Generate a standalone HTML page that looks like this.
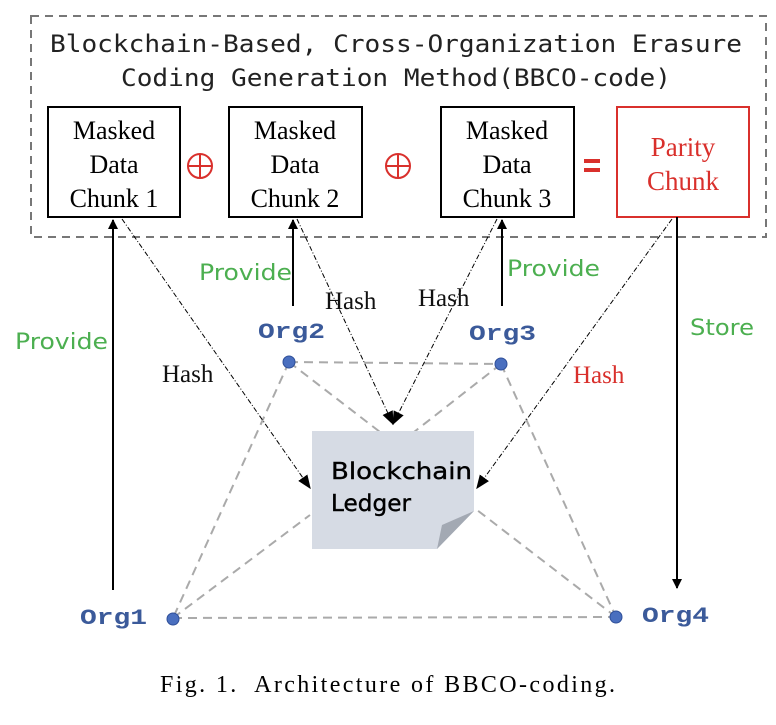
<!DOCTYPE html>
<html><head><meta charset="utf-8"><style>
body{margin:0;background:#fff;width:776px;height:725px;overflow:hidden}
svg{display:block}
</style></head><body>
<svg width="776" height="725" viewBox="0 0 776 725" xmlns="http://www.w3.org/2000/svg">
<defs>
<marker id="ah" viewBox="0 0 10 10" refX="9" refY="5" markerWidth="10" markerHeight="10" orient="auto-start-reverse" markerUnits="userSpaceOnUse"><path d="M0,0L10,5L0,10z" fill="#000"/></marker>
<marker id="ah2" viewBox="0 0 10 10" refX="9" refY="5" markerWidth="14" markerHeight="14" orient="auto" markerUnits="userSpaceOnUse"><path d="M0,1L10,5L0,9z" fill="#000"/></marker>
</defs>
<rect x="31" y="16" width="735" height="221" fill="none" stroke="#777" stroke-width="2" stroke-dasharray="8,6"/>
<g font-family="DejaVu Sans Mono, Liberation Mono, monospace" font-size="24" fill="#222">
<text x="50" y="52" textLength="692" lengthAdjust="spacingAndGlyphs">Blockchain-Based, Cross-Organization Erasure</text>
<text x="121" y="86" textLength="550" lengthAdjust="spacingAndGlyphs">Coding Generation Method(BBCO-code)</text>
</g>
<g fill="#fff" stroke="#000" stroke-width="2">
<rect x="48" y="107" width="132" height="110"/>
<rect x="229" y="107" width="133" height="110"/>
<rect x="441" y="107" width="133" height="110"/>
</g>
<rect x="617" y="107" width="132" height="110" fill="#fff" stroke="#d9302c" stroke-width="2"/>
<g font-family="Liberation Serif, serif" font-size="26" text-anchor="middle" fill="#000">
<text x="114" y="139">Masked</text><text x="114" y="173">Data</text><text x="114" y="207">Chunk 1</text>
<text x="295" y="139">Masked</text><text x="295" y="173">Data</text><text x="295" y="207">Chunk 2</text>
<text x="507" y="139">Masked</text><text x="507" y="173">Data</text><text x="507" y="207">Chunk 3</text>
<text x="683" y="156" fill="#d9302c" font-size="27">Parity</text><text x="683" y="190" fill="#d9302c" font-size="27">Chunk</text>
</g>
<g stroke="#d9302c" stroke-width="2" fill="none">
<circle cx="200" cy="166" r="12"/><line x1="188" y1="166" x2="212" y2="166"/><line x1="200" y1="154" x2="200" y2="178"/>
<circle cx="398" cy="166" r="12"/><line x1="386" y1="166" x2="410" y2="166"/><line x1="398" y1="154" x2="398" y2="178"/>
</g>
<rect x="584" y="159" width="16" height="4" fill="#d9302c"/><rect x="584" y="168" width="16" height="4" fill="#d9302c"/>
<g stroke="#aaa" stroke-width="2" stroke-dasharray="9,6" fill="none">
<line x1="289" y1="362" x2="501" y2="364"/>
<line x1="173" y1="618" x2="616" y2="617"/>
<line x1="289" y1="362" x2="173" y2="618"/>
<line x1="501" y1="364" x2="616" y2="617"/>
<line x1="289" y1="362" x2="380" y2="432"/>
<line x1="501" y1="364" x2="414" y2="432"/>
<line x1="173" y1="618" x2="310" y2="515"/>
<line x1="616" y1="617" x2="477" y2="510"/>
</g>
<path d="M312,431 H474 V511 L437,549 H312 Z" fill="#d6dbe4"/>
<path d="M474,511 L437,549 L442,525 Z" fill="#a3a9b3"/>
<text x="331" y="479" font-family="DejaVu Sans, sans-serif" font-size="23" fill="#000" stroke="#000" stroke-width="0.4" textLength="141" lengthAdjust="spacingAndGlyphs">Blockchain</text>
<text x="331" y="511" font-family="DejaVu Sans, sans-serif" font-size="23" fill="#000" stroke="#000" stroke-width="0.4" textLength="80" lengthAdjust="spacingAndGlyphs">Ledger</text>
<g stroke="#000" stroke-width="1" stroke-dasharray="5,2,1,2" fill="none">
<line x1="122" y1="219" x2="310" y2="488" marker-end="url(#ah2)"/>
<line x1="297" y1="219" x2="393" y2="424" marker-end="url(#ah2)"/>
<line x1="497" y1="219" x2="393" y2="424" marker-end="url(#ah2)"/>
<line x1="672" y1="219" x2="477" y2="488" marker-end="url(#ah2)"/>
</g>
<g stroke="#000" stroke-width="2">
<line x1="113" y1="590" x2="113" y2="220" marker-end="url(#ah)"/>
<line x1="293" y1="306" x2="293" y2="220" marker-end="url(#ah)"/>
<line x1="502" y1="306" x2="502" y2="220" marker-end="url(#ah)"/>
<line x1="677" y1="217" x2="677" y2="588" marker-end="url(#ah)"/>
</g>
<g fill="#4a6fbf" stroke="#2f4f99" stroke-width="1">
<circle cx="289" cy="362" r="6"/><circle cx="501" cy="364" r="6"/><circle cx="173" cy="619" r="6"/><circle cx="616" cy="617" r="6"/>
</g>
<g font-family="Liberation Mono, monospace" font-size="22" font-weight="bold" fill="#3b5a9a">
<text x="258" y="338" textLength="67" lengthAdjust="spacingAndGlyphs">Org2</text>
<text x="469" y="340" textLength="67" lengthAdjust="spacingAndGlyphs">Org3</text>
<text x="80" y="624" textLength="67" lengthAdjust="spacingAndGlyphs">Org1</text>
<text x="642" y="622" textLength="67" lengthAdjust="spacingAndGlyphs">Org4</text>
</g>
<g font-family="DejaVu Sans, sans-serif" font-size="22" fill="#4caf50">
<text x="15" y="349" textLength="93" lengthAdjust="spacingAndGlyphs">Provide</text>
<text x="199" y="280" textLength="93" lengthAdjust="spacingAndGlyphs">Provide</text>
<text x="507" y="276" textLength="93" lengthAdjust="spacingAndGlyphs">Provide</text>
<text x="690" y="335" textLength="64" lengthAdjust="spacingAndGlyphs">Store</text>
</g>
<g font-family="Liberation Serif, serif" font-size="25" fill="#111">
<text x="162" y="382">Hash</text><text x="325" y="309">Hash</text><text x="418" y="306">Hash</text>
<text x="573" y="383" fill="#d9302c">Hash</text>
</g>
<text x="160" y="692" font-family="Liberation Serif, serif" font-size="24" fill="#000" textLength="455" lengthAdjust="spacing" xml:space="preserve">Fig. 1.  Architecture of BBCO-coding.</text>
</svg>
</body></html>
